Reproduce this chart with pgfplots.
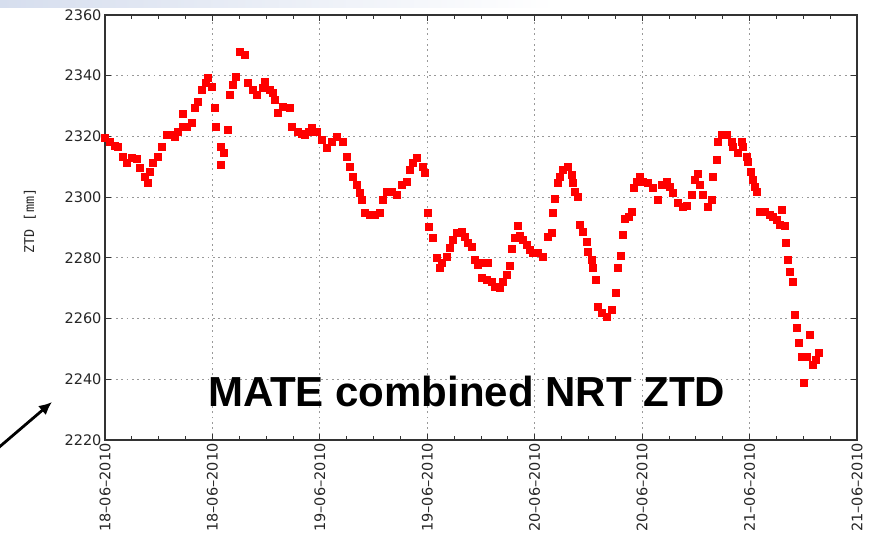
\documentclass[border=0pt]{standalone}
\usepackage{pgfplots}
\pgfplotsset{compat=1.18}
\usepackage{fontspec}
\setmainfont{DejaVu Sans}
\setmonofont{DejaVu Sans Mono}
\newfontfamily\titlefont{Liberation Sans}
\usetikzlibrary{arrows.meta}
\definecolor{banner}{RGB}{214,222,238}
\begin{document}
\begin{tikzpicture}
\begin{axis}[
  scale only axis, width=752bp, height=425bp,
  xmin=0, xmax=84, ymin=2220, ymax=2360,
  xtick={0,12,...,84},
  xticklabels={18--06--2010,18--06--2010,19--06--2010,19--06--2010,20--06--2010,20--06--2010,21--06--2010,21--06--2010},
  minor x tick num=3,
  ytick={2220,2240,...,2360},
  tick align=inside,
  major tick length=6bp, minor tick length=4bp,
  grid=major,
  grid style={dash pattern=on 1.8bp off 3.6bp, black!40, line width=1bp},
  axis line style={line width=1.6bp, black!80},
  every tick/.style={black!80, line width=1bp},
  tick label style={font=\fontsize{14.5bp}{16bp}\selectfont, black!85},
  /pgf/number format/assume math mode=true,
  /pgf/number format/1000 sep={},
  scaled y ticks=false,
  xticklabel style={rotate=90, anchor=east},
  ylabel={ZTD [mm]},
  ylabel style={font=\ttfamily\fontsize{13.5bp}{15bp}\selectfont, black!85, at={(axis description cs:-0.1,0.515)}, anchor=center},
  clip=false,
]
\fill[left color=banner, right color=white, shading angle=90] (axis description cs:-0.1396,1.0165) rectangle (axis description cs:0.6,1.04);
\addplot[only marks, mark=square*, mark size=3.5bp, red, mark options={draw=red, fill=red}] table {
x y
0 2319.5
0.56 2318.2
1.12 2316.9
1.45 2316.5
2.01 2313.2
2.46 2311.3
3.02 2312.9
3.57 2312.6
3.91 2309.6
4.47 2306.6
4.80 2304.7
5.03 2308.3
5.36 2311.3
5.92 2313.2
6.37 2316.5
6.93 2320.5
7.48 2320.5
7.82 2319.8
8.15 2321.5
8.71 2323.1
8.71 2327.4
9.16 2323.1
9.72 2324.4
10.05 2329.4
10.39 2331.3
10.84 2335.3
11.28 2337.6
11.51 2339.2
11.95 2336.3
12.29 2329.4
12.40 2323.1
12.96 2316.5
13.29 2314.5
12.96 2310.6
13.74 2322.1
13.96 2333.6
14.30 2336.9
14.63 2339.6
15.08 2347.8
15.64 2346.8
15.97 2337.6
16.53 2335.3
16.98 2333.6
17.65 2336.0
17.87 2337.9
18.43 2335.3
18.77 2334.3
18.99 2332.0
19.33 2327.7
19.88 2329.7
20.67 2329.4
20.89 2323.1
21.56 2321.5
22.00 2321.0
22.34 2320.5
22.70 2321.6
23.12 2322.8
23.68 2321.5
24.24 2318.8
24.80 2316.2
25.36 2318.2
25.92 2319.8
26.59 2318.2
27.03 2313.2
27.37 2309.9
27.70 2306.6
28.15 2304.0
28.49 2301.4
28.71 2299.1
29.04 2294.8
29.60 2294.1
30.16 2294.1
30.72 2294.8
31.06 2299.1
31.50 2301.7
32.06 2301.7
32.62 2300.7
33.18 2304.0
33.74 2305.0
34.07 2309.0
34.41 2311.3
34.85 2312.9
35.52 2309.9
35.75 2308.0
36.08 2294.8
36.19 2290.2
36.64 2286.5
37.09 2280.0
37.42 2276.7
37.65 2278.3
38.20 2280.3
38.54 2283.3
38.88 2285.9
39.32 2288.2
39.88 2288.5
40.21 2286.9
40.55 2284.9
41.00 2283.6
41.33 2279.3
41.67 2277.7
42.23 2278.3
42.78 2278.3
42.11 2273.4
42.67 2272.7
43.23 2272.1
43.57 2270.4
44.12 2270.1
44.46 2272.1
44.91 2274.4
45.24 2277.3
45.47 2282.9
45.80 2286.5
46.14 2290.5
46.36 2287.2
46.70 2285.9
47.14 2284.2
47.48 2282.6
47.81 2281.6
48.37 2281.6
48.93 2280.3
49.49 2286.9
49.93 2288.2
50.05 2294.8
50.27 2299.4
50.60 2304.7
50.83 2306.6
51.16 2309.0
51.72 2309.9
52.17 2307.3
52.28 2304.7
52.50 2301.7
52.84 2300.1
53.06 2290.8
53.40 2288.5
53.84 2285.2
53.96 2281.9
54.40 2279.3
54.51 2276.7
54.85 2272.7
55.07 2263.8
55.52 2261.8
56.08 2260.5
56.64 2262.8
57.08 2268.4
57.31 2276.7
57.64 2280.6
57.87 2287.5
58.09 2292.8
58.54 2293.5
58.87 2295.1
59.10 2303.0
59.43 2305.0
59.77 2306.6
60.10 2305.0
60.66 2304.7
61.22 2303.0
61.78 2299.1
62.22 2304.0
62.78 2305.0
63.12 2303.3
63.45 2301.4
64.01 2298.1
64.57 2296.8
65.02 2297.1
65.57 2300.7
65.91 2305.7
66.24 2307.6
66.47 2304.0
66.80 2300.7
67.36 2296.8
67.81 2299.1
67.92 2306.6
68.37 2312.2
68.48 2318.2
68.92 2320.5
69.48 2320.5
70.04 2318.2
70.15 2316.5
70.71 2314.5
71.16 2318.2
71.27 2316.5
71.72 2313.2
71.83 2311.6
72.16 2308.3
72.39 2305.7
72.61 2303.3
72.84 2301.7
73.17 2295.1
73.73 2295.1
74.29 2294.1
74.62 2293.5
75.07 2292.5
75.40 2290.8
75.63 2295.8
75.96 2290.5
76.07 2284.9
76.30 2279.3
76.52 2275.3
76.86 2272.1
77.08 2261.2
77.30 2256.9
77.53 2252.0
77.86 2247.4
78.42 2247.4
78.08 2238.8
78.75 2254.6
79.09 2244.7
79.42 2246.4
79.76 2248.7
};
\node[font=\titlefont\bfseries\fontsize{42bp}{48bp}\selectfont, anchor=base] at (axis cs:40.4,2231.2) {MATE combined NRT ZTD};
\end{axis}
\draw[line width=2.8bp, -{Latex[length=13bp,width=12bp]}] ([shift={(-108bp,-9bp)}]current axis.south west) -- ([shift={(-53bp,38bp)}]current axis.south west);
\pgfresetboundingbox
\path ([shift={(-105bp,-106bp)}]current axis.south west) rectangle ([shift={(13bp,15bp)}]current axis.north east);
\end{tikzpicture}
\end{document}
